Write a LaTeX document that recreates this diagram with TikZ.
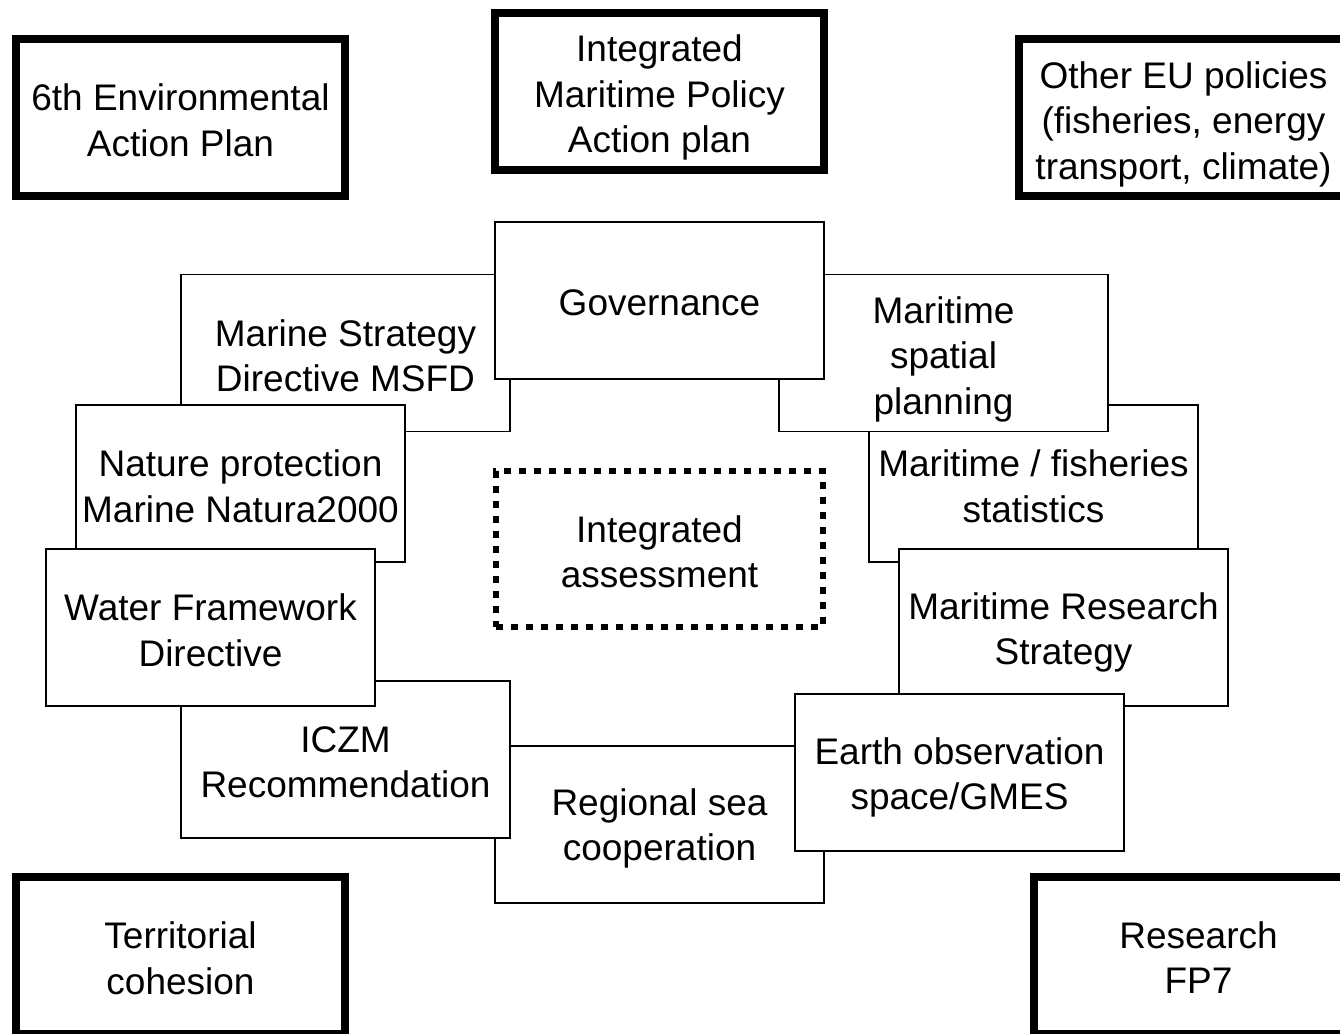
\documentclass[tikz,border=0pt]{standalone}
\usepackage{fontspec}
\setmainfont{Liberation Sans}
\begin{document}
\begin{tikzpicture}[x=1pt,y=-1pt,
  every node/.style={font=\fontsize{37}{45.5}\selectfont, align=center, inner sep=0pt},
  thinbox/.style={draw, fill=white, line width=1.8pt, minimum width=329pt, minimum height=157pt},
  thickbox/.style={draw, fill=white, line width=8pt, minimum width=329pt, minimum height=157pt},
  dotbox/.style={draw, line width=6.5pt, dash pattern=on 7pt off 8pt, minimum width=327pt, minimum height=156pt},
  txt/.style 2 args={label={[yshift=#1]center:{#2}}}]
\useasboundingbox (0,0) rectangle (1340,1033);
\clip (0,0) rectangle (1340,1033);
% outer policy boxes
\node[thickbox, txt={-3pt}{6th Environmental\\Action Plan}] (envap) at (180.5,117.5) {};
\node[thickbox, txt={-6pt}{Integrated\\Maritime Policy\\Action plan}] (imp) at (659.5,91.5) {};
\node[thickbox, txt={-6.5pt}{Other EU policies\\(fisheries, energy\\transport, climate)}] (othereu) at (1183.5,117.5) {};
\node[thickbox, txt={-3pt}{Territorial\\cohesion}] (terr) at (180.5,955.5) {};
\node[thickbox, txt={-2pt}{Research\\FP7}] (research) at (1198.5,955.5) {};
% ring of boxes (back layer)
\node[thinbox, txt={-3pt}{Maritime / fisheries\\statistics}] (stats) at (1033.5,483.5) {};
\node[thinbox, txt={-3pt}{Marine Strategy\\Directive MSFD}] (msfd) at (345.5,353) {};
\node[thinbox, txt={-4pt}{Regional sea\\cooperation}] (regional) at (659.5,824.5) {};
% middle layer
\node[thinbox, txt={-6pt}{Maritime\\spatial\\planning}] (msp) at (943.5,353) {};
\node[thinbox, txt={-3pt}{Nature protection\\Marine Natura2000}] (nature) at (240.5,483.5) {};
\node[thinbox, txt={-3pt}{ICZM\\Recommendation}] (iczm) at (345.5,759.5) {};
\node[thinbox, txt={-5pt}{Maritime Research\\Strategy}] (mrs) at (1063.5,627.5) {};
% front layer
\node[thinbox, txt={-2pt}{Governance}] (gov) at (659.5,300.5) {};
\node[thinbox, txt={-3pt}{Water Framework\\Directive}] (wfd) at (210.5,627.5) {};
\node[thinbox, txt={-5pt}{Earth observation\\space/GMES}] (eo) at (959.5,772.5) {};
% centre
\node[dotbox, txt={-3pt}{Integrated\\assessment}] (assess) at (659.5,549) {};
\end{tikzpicture}
\end{document}
